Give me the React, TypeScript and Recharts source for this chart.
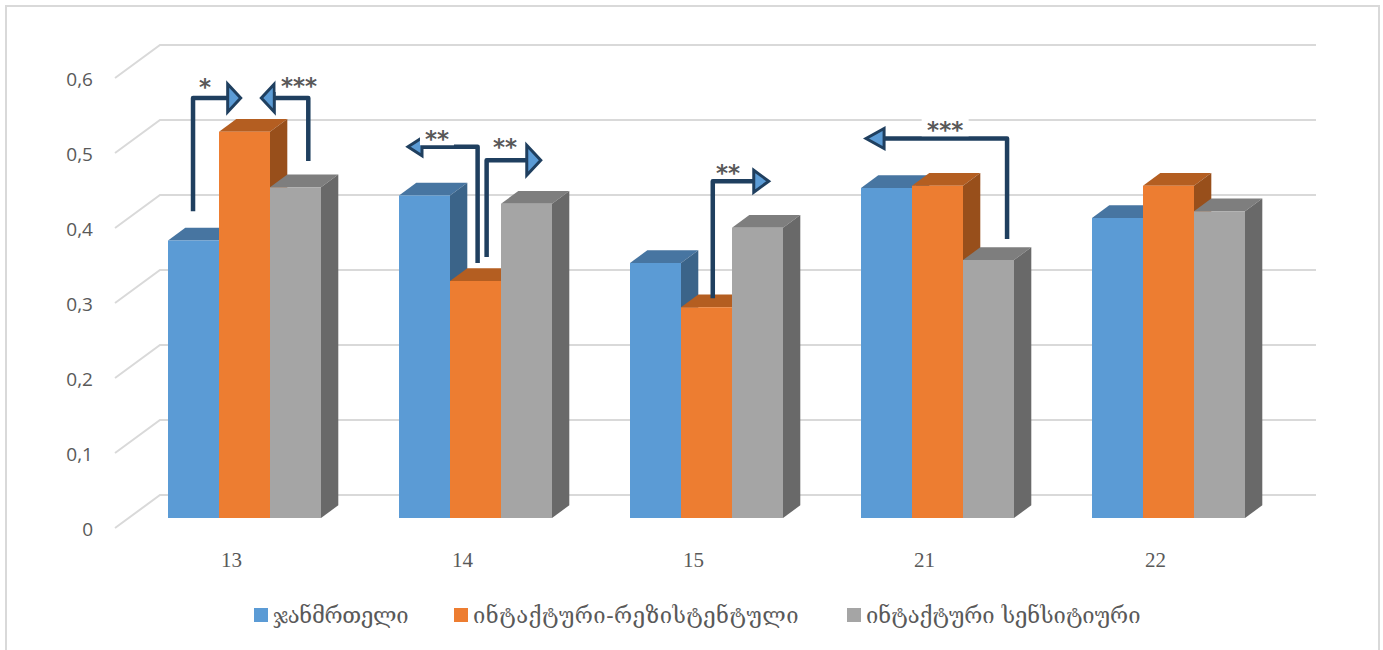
import { Bar, BarChart, CartesianGrid, Legend, ReferenceDot, ReferenceLine, XAxis, YAxis } from 'recharts';

const categories = ['13', '14', '15', '21', '22'];
const healthy = [0.37, 0.43, 0.34, 0.44, 0.4];
const resistant = [0.515, 0.316, 0.281, 0.443, 0.443];
const sensitive = [0.441, 0.419, 0.387, 0.344, 0.409];
const yTicks = [0, 0.1, 0.2, 0.3, 0.4, 0.5, 0.6];

// arrows, x in category units (0-5 over the plot), y in chart values
const arrowStartX = [0.275, 0.774, 1.507, 1.546, 2.525, 3.799];
const arrowStartY = [0.409, 0.476, 0.34, 0.348, 0.293, 0.372];
const arrowTipX = [0.49, 0.562, 1.197, 1.789, 2.776, 3.18];
const arrowTipY = [0.56, 0.56, 0.495, 0.477, 0.449, 0.506];
const arrowStars = ['*', '***', '**', '**', '**', '***'];
const starX = [0.327, 0.734, 1.331, 1.626, 2.591, 3.531];
const starY = [0.579, 0.58, 0.509, 0.499, 0.464, 0.521];

const chartData = categories.map((name, i) => ({
  name,
  slot: i,
  healthy: healthy[i],
  resistant: resistant[i],
  sensitive: sensitive[i],
}));

const headLength = [15, 15, 16, 16, 17, 20];
const headHalf = [14, 14, 9, 15, 11, 10];

const DEPTH_X = 17.3;
const DEPTH_Y = 12.7;
const GRID_COLOR = '#D9D9D9';
const ARROW_COLOR = '#1F3F5F';
const TEXT_COLOR = '#595959';

const bar3d = (top: string, side: string) => (props: any) => {
  const { x, y, width, height, fill } = props;
  const r = x + width;
  const b = y + height;
  return (
    <g>
      <polygon
        points={`${x},${y} ${x + DEPTH_X},${y - DEPTH_Y} ${r + DEPTH_X},${y - DEPTH_Y} ${r},${y}`}
        fill={top}
      />
      <polygon
        points={`${r},${y} ${r + DEPTH_X},${y - DEPTH_Y} ${r + DEPTH_X},${b - DEPTH_Y} ${r},${b}`}
        fill={side}
      />
      <rect x={x} y={y} width={width} height={height} fill={fill} />
    </g>
  );
};

const gridLine = (props: any) => {
  const { x1, x2, y1, index } = props;
  return (
    <polyline
      key={index}
      points={`${x1 - 14.5},${y1 + 10} ${x1 + 30.5},${y1 - 23} ${x2 + 31.5},${y1 - 23}`}
      fill="none"
      stroke={GRID_COLOR}
      strokeWidth={2}
    />
  );
};

const YTick = (props: any) => (
  <text
    x={93}
    y={props.y + 11}
    textAnchor="end"
    dominantBaseline="central"
    fontFamily="'Open Sans', sans-serif"
    fontSize={19}
    fill={TEXT_COLOR}
  >
    {String(props.payload.value).replace('.', ',')}
  </text>
);

const XTick = (props: any) => (
  <text
    x={props.x - 13.5}
    y={560}
    textAnchor="middle"
    dominantBaseline="central"
    fontFamily="'Liberation Serif', serif"
    fontSize={21}
    fill={TEXT_COLOR}
  >
    {props.payload.value}
  </text>
);

const arrowShape = (i: number) => (props: any) => {
  const { x1, y1, x2, y2 } = props;
  const dir = x2 > x1 ? 1 : -1;
  const base = x2 - dir * headLength[i];
  return (
    <g>
      <path
        d={`M${x1},${y1} L${x1},${y2} L${base},${y2}`}
        fill="none"
        stroke={ARROW_COLOR}
        strokeWidth={4.5}
        strokeLinejoin="round"
      />
      <polygon
        points={`${base},${y2 - headHalf[i]} ${x2 - dir * 2},${y2} ${base},${y2 + headHalf[i]}`}
        fill="#5B9BD5"
        stroke={ARROW_COLOR}
        strokeWidth={3}
      />
    </g>
  );
};

const starShape = (i: number) => (props: any) => {
  const w = arrowStars[i].length * 13 + 8;
  return (
    <g>
      <rect x={props.cx - w / 2} y={props.cy - 9} width={w} height={18} fill="#fff" />
      <text
        x={props.cx}
        y={props.cy + 11}
        textAnchor="middle"
        fontFamily="'DejaVu Sans', sans-serif"
        fontWeight="bold"
        fontSize={23}
        fill={TEXT_COLOR}
      >
        {arrowStars[i]}
      </text>
    </g>
  );
};

const legendLeft = [254, 454, 847];
const legendSpacing = [-0.3, 0.5, 0];

const LegendContent = (props: any) => (
  <div style={{ position: 'relative', height: 30 }}>
    {props.payload.map((entry: any, i: number) => (
      <div
        key={entry.value}
        style={{
          position: 'absolute',
          left: legendLeft[i],
          top: 0,
          display: 'flex',
          alignItems: 'center',
          height: 30,
          whiteSpace: 'nowrap',
          fontFamily: "'DejaVu Serif', serif",
          fontSize: 22,
          letterSpacing: legendSpacing[i],
          color: TEXT_COLOR,
        }}
      >
        <span style={{ width: 14, height: 14, background: entry.color, marginRight: 5 }} />
        {entry.value}
      </div>
    ))}
  </div>
);

export default function App() {
  return (
    <div style={{ position: 'absolute', left: 0, top: 0, width: 1383, height: 650, overflow: 'hidden', background: '#fff' }}>
      <div
        style={{
          position: 'absolute',
          left: 5,
          top: 5,
          width: 1371,
          height: 700,
          border: `2px solid ${GRID_COLOR}`,
        }}
      />
      <div style={{ position: 'absolute', left: 0, top: 0 }}>
        <BarChart
          width={1383}
          height={650}
          data={chartData}
          margin={{ top: 68, right: 98.5, bottom: 42, left: 0 }}
          barCategoryGap={38.5}
          barGap={0}
        >
          <CartesianGrid horizontal={gridLine} vertical={false} />
          <XAxis dataKey="name" axisLine={false} tickLine={false} height={60} tick={XTick} interval={0} />
          <XAxis xAxisId="pos" dataKey="slot" type="number" domain={[0, 5]} allowDataOverflow hide />
          <YAxis domain={[0, 0.6]} ticks={yTicks} width={129.5} axisLine={false} tickLine={false} tick={YTick} interval={0} />
          <Legend
            content={LegendContent}
            verticalAlign="bottom"
            itemSorter={null}
            wrapperStyle={{ left: 0, top: 600, width: 1383, height: 30 }}
          />
          <Bar dataKey="healthy" name="ჯანმრთელი" fill="#5B9BD5" shape={bar3d('#4775A1', '#3B6489')} isAnimationActive={false} />
          <Bar dataKey="resistant" name="ინტაქტური-რეზისტენტული" fill="#ED7D31" shape={bar3d('#B45E21', '#984F1B')} isAnimationActive={false} />
          <Bar dataKey="sensitive" name="ინტაქტური სენსიტიური" fill="#A5A5A5" shape={bar3d('#7E7E7E', '#696969')} isAnimationActive={false} />
          {arrowStars.map((_, i) => (
            <ReferenceLine
              key={`arrow-${i}`}
              xAxisId="pos"
              ifOverflow="visible"
              segment={[
                { x: arrowStartX[i], y: arrowStartY[i] },
                { x: arrowTipX[i], y: arrowTipY[i] },
              ]}
              shape={arrowShape(i)}
            />
          ))}
          {arrowStars.map((_, i) => (
            <ReferenceDot
              key={`stars-${i}`}
              xAxisId="pos"
              ifOverflow="visible"
              x={starX[i]}
              y={starY[i]}
              shape={starShape(i)}
            />
          ))}
        </BarChart>
      </div>
    </div>
  );
}
